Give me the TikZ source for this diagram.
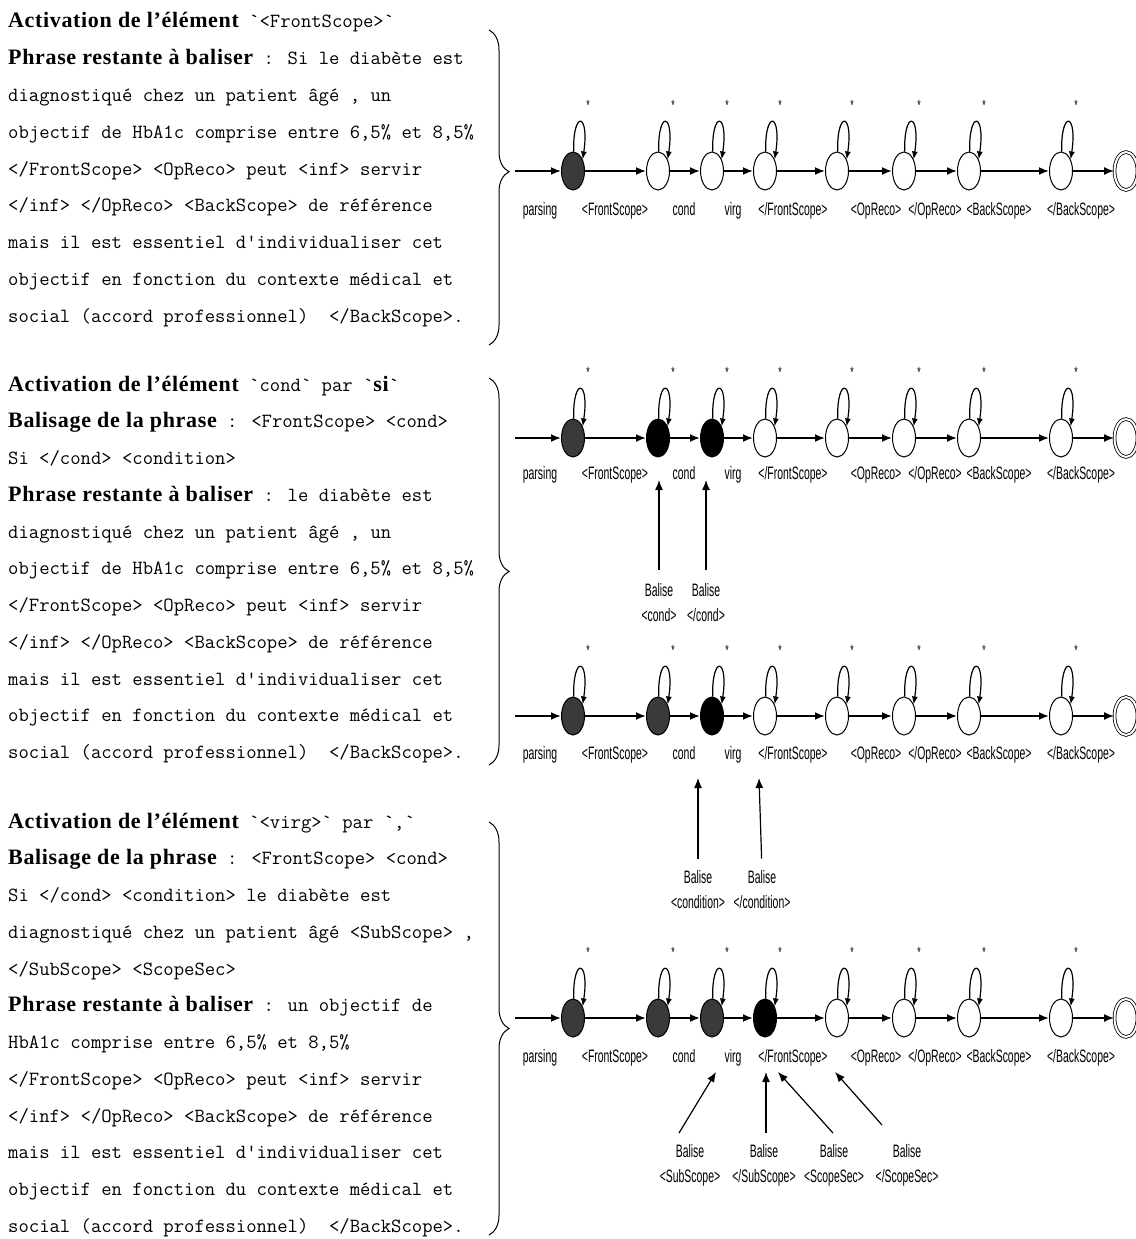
\documentclass[tikz,border=0pt]{standalone}
\usepackage{fontspec}
\setmainfont{Liberation Serif}
\newfontfamily\monof{Latin Modern Mono}
\newfontfamily\boldf[LetterSpace=3]{Liberation Serif}
\newfontfamily\lblf[FakeStretch=0.58]{Liberation Sans}
\usetikzlibrary{shapes.geometric,arrows.meta,decorations.pathreplacing,calc}
\definecolor{dgray}{RGB}{58,58,58}
\newcommand\bq{\char"60}
\newcommand\aq{\char"27}
\newcommand\bd[1]{{\boldf\bfseries\fontsize{22}{24}\selectfont #1}}
\tikzset{
  txt/.style={anchor=base west, inner sep=0, font=\monof\fontsize{20.1}{22}\selectfont},
  st/.style={ellipse, draw, line width=1pt, minimum width=23pt, minimum height=38pt, inner sep=0, fill=white},
  gst/.style={st, fill=dgray},
  bst/.style={st, fill=black},
  fin/.style={st, double, double distance=2pt, line width=0.8pt},
  tr/.style={-{Latex[length=10pt,width=8pt]}, line width=1.8pt},
  lp/.style={-{Latex[length=8pt,width=6pt]}, line width=1.2pt},
  ba/.style={-{Latex[length=10pt,width=8pt]}, line width=1.2pt},
  lbl/.style={font=\lblf\fontsize{18}{20}\selectfont, inner sep=0, anchor=base},
  blbl/.style={font=\lblf\fontsize{18}{25}\selectfont, inner sep=0, align=center},
  star/.style={font=\lblf\fontsize{15}{15}\selectfont, inner sep=0},
  brc/.style={decorate, line width=1pt}
}
\newcommand\autrow[7]{%
  \coordinate (#1s) at (515,#2);
  \node[#4] (#1n1) at (573,#2) {};
  \node[#5] (#1n2) at (658,#2) {};
  \node[#6] (#1n3) at (712,#2) {};
  \node[#7] (#1n4) at (765,#2) {};
  \node[st] (#1n5) at (837,#2) {};
  \node[st] (#1n6) at (904,#2) {};
  \node[st] (#1n7) at (969,#2) {};
  \node[st] (#1n8) at (1061,#2) {};
  \node[fin] (#1f) at (1126,#2) {};
  \draw[tr] (#1s) -- (#1n1);
  \foreach \a/\b in {n1/n2,n2/n3,n3/n4,n4/n5,n5/n6,n6/n7,n7/n8,n8/f} {\draw[tr] (#1\a) -- (#1\b);}
  \foreach \k in {n1,n2,n3,n4,n5,n6,n7,n8} {
    \draw[lp] (#1\k.88) .. controls +(-1,-42) and +(7,-47) .. (#1\k.50);
    \node[star] (#1\k-st) at ($(#1\k.north)+(15,-46)$) {*};
  }
  \node[lbl] (#1l1) at (540,#3) {parsing};
  \node[lbl] (#1l2) at (615,#3) {<FrontScope>};
  \node[lbl] (#1l3) at (684,#3) {cond};
  \node[lbl] (#1l4) at (733,#3) {virg};
  \node[lbl] (#1l5) at (793,#3) {</FrontScope>};
  \node[lbl] (#1l6) at (876,#3) {<OpReco>};
  \node[lbl] (#1l7) at (935,#3) {</OpReco>};
  \node[lbl] (#1l8) at (999,#3) {<BackScope>};
  \node[lbl] (#1l9) at (1081,#3) {</BackScope>};
}
\begin{document}
\begin{tikzpicture}[x=1pt,y=-1pt]
\useasboundingbox[fill=white] (0,0) rectangle (1135,1239);
% ---------------- block 1 text
\node[txt] (a1) at (8,{28+36.75*0}) {\bd{Activation de l’élément} \bq<FrontScope>\bq};
\node[txt] (a2) at (8,{28+36.75*1}) {\bd{Phrase restante à baliser} : Si le diabète est};
\node[txt] (a3) at (8,{28+36.75*2}) {diagnostiqué chez un patient âgé , un};
\node[txt] (a4) at (8,{28+36.75*3}) {objectif de HbA1c comprise entre 6,5\% et 8,5\%};
\node[txt] (a5) at (8,{28+36.75*4}) {</FrontScope> <OpReco> peut <inf> servir};
\node[txt] (a6) at (8,{28+36.75*5}) {</inf> </OpReco> <BackScope> de référence};
\node[txt] (a7) at (8,{28+36.75*6}) {mais il est essentiel d\aq individualiser cet};
\node[txt] (a8) at (8,{28+36.75*7}) {objectif en fonction du contexte médical et};
\node[txt] (a9) at (8,{28+36.75*8}) {social (accord professionnel)\ \ </BackScope>.};
% ---------------- block 2 text
\node[txt] (b1) at (8,{391+36.75*0}) {\bd{Activation de l’élément} \bq cond\bq{} par \bq\bd{si}\bq};
\node[txt] (b2) at (8,{391+36.75*1}) {\bd{Balisage de la phrase} : <FrontScope> <cond>};
\node[txt] (b3) at (8,{391+36.75*2}) {Si </cond> <condition>};
\node[txt] (b4) at (8,{391+36.75*3}) {\bd{Phrase restante à baliser} : le diabète est};
\node[txt] (b5) at (8,{391+36.75*4}) {diagnostiqué chez un patient âgé , un};
\node[txt] (b6) at (8,{391+36.75*5}) {objectif de HbA1c comprise entre 6,5\% et 8,5\%};
\node[txt] (b7) at (8,{391+36.75*6}) {</FrontScope> <OpReco> peut <inf> servir};
\node[txt] (b8) at (8,{391+36.75*7}) {</inf> </OpReco> <BackScope> de référence};
\node[txt] (b9) at (8,{391+36.75*8}) {mais il est essentiel d\aq individualiser cet};
\node[txt] (b10) at (8,{391+36.75*9}) {objectif en fonction du contexte médical et};
\node[txt] (b11) at (8,{391+36.75*10}) {social (accord professionnel)\ \ </BackScope>.};
% ---------------- block 3 text
\node[txt] (c1) at (8,{828+36.75*0}) {\bd{Activation de l’élément} \bq<virg>\bq{} par \bq,\bq};
\node[txt] (c2) at (8,{828+36.75*1}) {\bd{Balisage de la phrase} : <FrontScope> <cond>};
\node[txt] (c3) at (8,{828+36.75*2}) {Si </cond> <condition> le diabète est};
\node[txt] (c4) at (8,{828+36.75*3}) {diagnostiqué chez un patient âgé <SubScope> ,};
\node[txt] (c5) at (8,{828+36.75*4}) {</SubScope> <ScopeSec>};
\node[txt] (c6) at (8,{828+36.75*5}) {\bd{Phrase restante à baliser} : un objectif de};
\node[txt] (c7) at (8,{828+36.75*6}) {HbA1c comprise entre 6,5\% et 8,5\%};
\node[txt] (c8) at (8,{828+36.75*7}) {</FrontScope> <OpReco> peut <inf> servir};
\node[txt] (c9) at (8,{828+36.75*8}) {</inf> </OpReco> <BackScope> de référence};
\node[txt] (c10) at (8,{828+36.75*9}) {mais il est essentiel d\aq individualiser cet};
\node[txt] (c11) at (8,{828+36.75*10}) {objectif en fonction du contexte médical et};
\node[txt] (c12) at (8,{828+36.75*11}) {social (accord professionnel)\ \ </BackScope>.};
% ---------------- braces
\coordinate (br1t) at (489,30);  \coordinate (br1b) at (489,345);
\coordinate (br2t) at (489,378); \coordinate (br2b) at (489,765);
\coordinate (br3t) at (489,822); \coordinate (br3b) at (489,1235);
\draw[brc, decoration={brace, amplitude=20pt, aspect=0.45}] (br1t) -- (br1b);
\draw[brc, decoration={brace, amplitude=20pt, aspect=0.5}] (br2t) -- (br2b);
\draw[brc, decoration={brace, amplitude=20pt, aspect=0.5}] (br3t) -- (br3b);
% ---------------- automata rows
\autrow{r1}{171}{215}{gst}{st}{st}{st}
\autrow{r2}{438}{479}{gst}{bst}{bst}{st}
\autrow{r3}{716}{759}{gst}{gst}{bst}{st}
\autrow{r4}{1018}{1062}{gst}{gst}{gst}{bst}
% ---------------- balise labels row 2
\node[blbl] (q2a) at (659,603) {Balise\\<cond>};
\node[blbl] (q2b) at (706,603) {Balise\\</cond>};
\coordinate (t2a) at (659,480); \coordinate (t2b) at (706,480);
\draw[ba, shorten <=14pt] (q2a.north) -- (t2a);
\draw[ba, shorten <=14pt] (q2b.north) -- (t2b);
% ---------------- balise labels row 3
\node[blbl] (q3a) at (698,890) {Balise\\<condition>};
\node[blbl] (q3b) at (762,890) {Balise\\</condition>};
\coordinate (t3a) at (698,778); \coordinate (t3b) at (759,778);
\draw[ba, shorten <=12pt] (q3a.north) -- (t3a);
\draw[ba, shorten <=12pt] (q3b.north) -- (t3b);
% ---------------- balise labels row 4
\node[blbl] (q4a) at (690,1165) {Balise\\<SubScope>};
\node[blbl] (q4b) at (764,1165) {Balise\\</SubScope>};
\node[blbl] (q4c) at (834,1165) {Balise\\<ScopeSec>};
\node[blbl] (q4d) at (907,1165) {Balise\\</ScopeSec>};
\coordinate (t4a) at (716,1072); \coordinate (t4b) at (766,1072);
\coordinate (t4c) at (778,1072); \coordinate (t4d) at (835,1072);
\coordinate (f4a) at (679,1133); \coordinate (f4b) at (766,1133);
\coordinate (f4c) at (833,1133); \coordinate (f4d) at (882,1125);
\draw[ba] (f4a) -- (t4a);
\draw[ba] (f4b) -- (t4b);
\draw[ba] (f4c) -- (t4c);
\draw[ba] (f4d) -- (t4d);
\end{tikzpicture}
\end{document}
